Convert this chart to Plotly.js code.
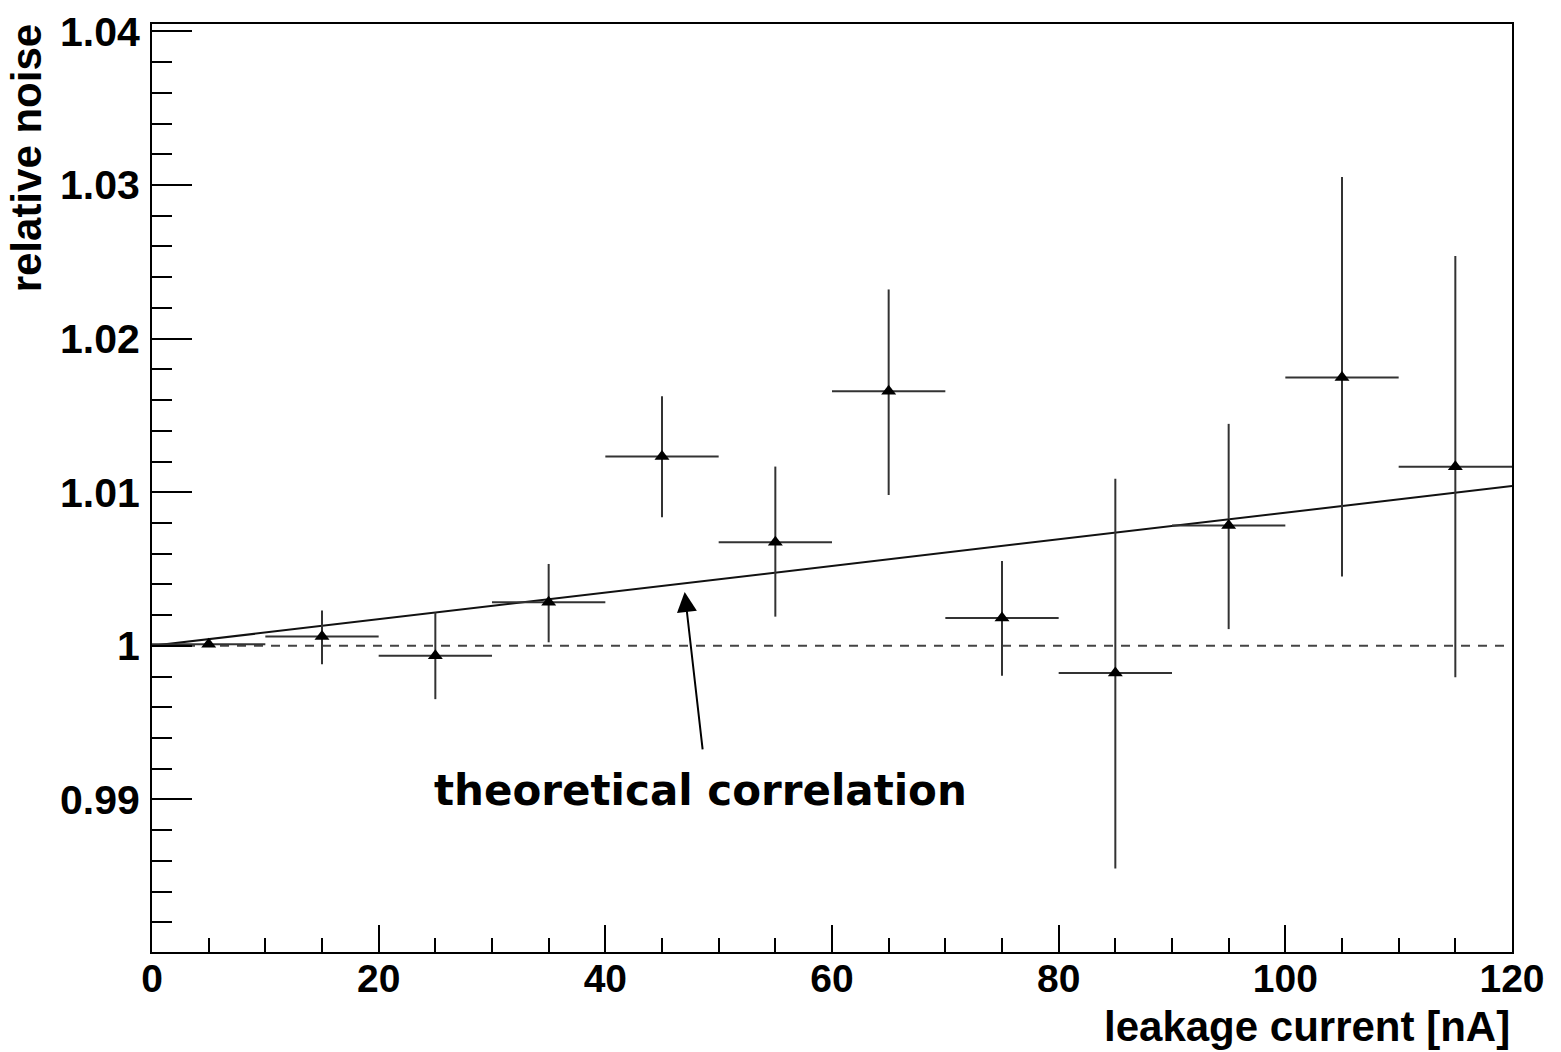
<!DOCTYPE html>
<html>
<head>
<meta charset="utf-8">
<script src="https://cdn.plot.ly/plotly-3.0.1.min.js"></script>
<style>
  html, body { margin: 0; padding: 0; background: #fff; }
  #chart { width: 1561px; height: 1052px; }
</style>
</head>
<body>
<div id="chart"></div>
<script>
// leakage current bin centres [nA]
const current = [5, 15, 25, 35, 45, 55, 65, 75, 85, 95, 105, 115];
// half bin width [nA]
const currentErr = [5, 5, 5, 5, 5, 5, 5, 5, 5, 5, 5, 5];
// relative noise
const noise = [1.0001, 1.0006, 0.99936, 1.00283, 1.01233, 1.00674, 1.01658, 1.00181, 0.99823, 1.00783, 1.01747, 1.01166];
// upper / lower error
const noiseErrUp = [0.0001, 0.0017, 0.00282, 0.0025, 0.00392, 0.00493, 0.00662, 0.00371, 0.01264, 0.00662, 0.01305, 0.01371];
const noiseErrDown = [0.0001, 0.0018, 0.00283, 0.0026, 0.00396, 0.00484, 0.00676, 0.00375, 0.01273, 0.00674, 0.01296, 0.01371];

// theoretical correlation line
const theoryX = [0, 120];
const theoryY = [1.0, 1.0104];

// reference level
const refX = [0, 120];
const refY = [1.0, 1.0];

const xTitle = 'leakage current [nA]';
const yTitle = 'relative noise';
const noteText = 'theoretical correlation';
// arrow tip and tail (data coordinates)
const arrowTip = [47.0, 1.0035];
const arrowTail = [48.6, 0.99316];

const yTickFont = { family: 'Liberation Sans, Arial, sans-serif', size: 41, color: '#000', weight: 'bold' };
const xTickFont = { family: 'Liberation Sans, Arial, sans-serif', size: 39, color: '#000', weight: 'bold' };
const titleFont = { family: 'Liberation Sans, Arial, sans-serif', size: 42, color: '#000', weight: 'bold' };

const traces = [
  {
    x: refX, y: refY, mode: 'lines', type: 'scatter',
    line: { color: '#444', width: 2, dash: '9px,8px' },
    hoverinfo: 'skip', showlegend: false
  },
  {
    x: theoryX, y: theoryY, mode: 'lines', type: 'scatter',
    line: { color: '#111', width: 2 },
    hoverinfo: 'skip', showlegend: false
  },
  {
    x: current, y: noise, mode: 'markers', type: 'scatter',
    marker: { symbol: 'triangle-up', size: 13, color: '#000' },
    error_x: { type: 'data', array: currentErr, visible: true, width: 0, thickness: 2, color: '#333' },
    error_y: { type: 'data', symmetric: false, array: noiseErrUp, arrayminus: noiseErrDown, visible: true, width: 0, thickness: 2, color: '#333' },
    showlegend: false
  }
];

const layout = {
  width: 1561, height: 1052,
  margin: { l: 152, r: 49, t: 24, b: 100 },
  paper_bgcolor: '#fff', plot_bgcolor: '#fff',
  showlegend: false,
  xaxis: {
    range: [0, 120], autorange: false,
    showgrid: false, zeroline: false,
    showline: true, mirror: true, linecolor: '#000', linewidth: 2,
    ticks: 'inside', ticklen: 27, tickwidth: 2, tickcolor: '#000',
    dtick: 20, tick0: 0,
    minor: { dtick: 5, ticks: 'inside', ticklen: 14, tickwidth: 2, tickcolor: '#000', showgrid: false },
    tickfont: xTickFont,
    ticklabelstandoff: -9
  },
  yaxis: {
    range: [0.98007, 1.04048], autorange: false,
    showgrid: false, zeroline: false,
    showline: true, mirror: true, linecolor: '#000', linewidth: 2,
    ticks: 'inside', ticklen: 40, tickwidth: 2, tickcolor: '#000',
    dtick: 0.01, tick0: 1,
    minor: { dtick: 0.002, tick0: 1, ticks: 'inside', ticklen: 20, tickwidth: 2, tickcolor: '#000', showgrid: false },
    tickfont: yTickFont,
    ticklabelstandoff: 2
  },
  annotations: [
    {
      xref: 'paper', yref: 'paper', x: 1, y: -0.1078,
      xanchor: 'right', yanchor: 'bottom',
      text: xTitle, showarrow: false,
      font: titleFont
    },
    {
      xref: 'paper', yref: 'paper', x: -0.0925, y: 1.002,
      xanchor: 'center', yanchor: 'top',
      text: yTitle, textangle: -90, showarrow: false,
      font: titleFont
    },
    {
      xref: 'x', yref: 'y', x: arrowTip[0], y: arrowTip[1],
      axref: 'x', ayref: 'y', ax: arrowTail[0], ay: arrowTail[1],
      text: '', showarrow: true,
      arrowhead: 2, arrowsize: 2, arrowwidth: 2, arrowcolor: '#000', standoff: 0, startstandoff: 0
    },
    {
      xref: 'x', yref: 'y', x: 48.37, y: 0.9906,
      xanchor: 'center', yanchor: 'middle',
      text: noteText, showarrow: false,
      font: { family: 'DejaVu Sans, Verdana, sans-serif', size: 42, color: '#000', weight: 'bold' }
    }
  ]
};

Plotly.newPlot('chart', traces, layout, { displayModeBar: false, staticPlot: true });
</script>
</body>
</html>
